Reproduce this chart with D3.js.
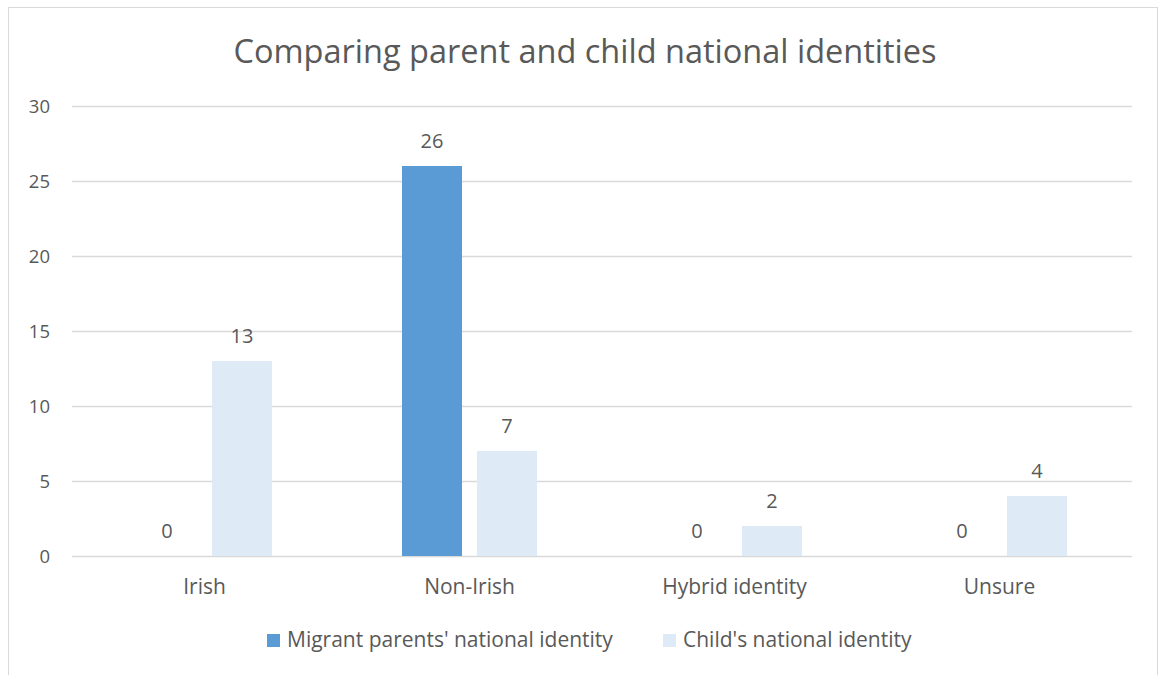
<!DOCTYPE html>
<html><head><meta charset="utf-8">
<script src="https://cdn.jsdelivr.net/npm/d3@7"></script>
<style>body{margin:0;background:#fff;}svg{display:block;}text{font-family:"Open Sans",sans-serif;fill:#595959;}</style>
</head><body>
<script>
const categories = ["Irish", "Non-Irish", "Hybrid identity", "Unsure"];
const seriesNames = ["Migrant parents' national identity", "Child's national identity"];
const parentValues = [0, 26, 0, 0];
const childValues = [13, 7, 2, 4];
const yTicks = [0, 5, 10, 15, 20, 25, 30];
const colors = ["#5B9BD5", "#DEEBF7"];

const W = 1160, H = 675;
const svg = d3.select("body").append("svg").attr("width", W).attr("height", H);
svg.append("rect").attr("x", 8.5).attr("y", 7.5).attr("width", 1149).attr("height", 680)
  .attr("fill", "#fff").attr("stroke", "#d9d9d9");

const x0 = d3.scaleBand().domain(categories).range([72, 1132]).paddingInner(0).paddingOuter(0);
const y = d3.scaleLinear().domain([0, 30]).range([556, 106]);

svg.append("text").attr("x", 585).attr("y", 63).attr("text-anchor", "middle")
  .style("font-size", "32.5px").text("Comparing parent and child national identities");

// gridlines
svg.append("g").selectAll("line").data(yTicks).join("line")
  .attr("x1", 72).attr("x2", 1132).attr("y1", d => Math.round(y(d)) + 0.5).attr("y2", d => Math.round(y(d)) + 0.5)
  .attr("stroke", "#d9d9d9").attr("stroke-width", 1.5);

const yAxis = d3.axisLeft(y).tickValues(yTicks).tickSize(0).tickPadding(0);
const ga = svg.append("g").attr("transform", "translate(50,0)").call(yAxis);
ga.select(".domain").remove();
ga.selectAll("text").style("font-size", "18.5px").attr("fill", "#595959").attr("dy", "0.35em");

const xAxis = d3.axisBottom(x0).tickSize(0).tickPadding(0);
const gx = svg.append("g").attr("transform", "translate(0,594)").call(xAxis);
gx.select(".domain").remove();
gx.selectAll("text").style("font-size", "21px").attr("fill", "#595959").attr("y", 0).attr("dy", "0");

const x1 = d3.scaleBand().domain([0, 1]).range([65, 200]).paddingInner(0.2).paddingOuter(0);
const data = categories.map((c, i) => ({c, vals: [parentValues[i], childValues[i]]}));
const groups = svg.append("g").selectAll("g").data(data).join("g")
  .attr("transform", d => `translate(${x0(d.c)},0)`);
groups.selectAll("rect").data(d => d.vals.map((v, k) => ({v, k}))).join("rect")
  .attr("x", d => x1(d.k)).attr("width", x1.bandwidth())
  .attr("y", d => y(d.v)).attr("height", d => y(0) - y(d.v))
  .attr("fill", d => colors[d.k]);
groups.selectAll("text.lbl").data(d => d.vals.map((v, k) => ({v, k}))).join("text")
  .attr("class", "lbl").attr("text-anchor", "middle")
  .attr("x", d => x1(d.k) + x1.bandwidth() / 2).attr("y", d => y(d.v) - 18)
  .style("font-size", "20px").text(d => d.v);

// legend
const legX = [267, 663];
const leg = svg.append("g").selectAll("g").data(seriesNames).join("g")
  .attr("transform", (d, i) => `translate(${legX[i]},634)`);
leg.append("rect").attr("width", 13).attr("height", 13).attr("fill", (d, i) => colors[i]);
leg.append("text").attr("x", 20).attr("y", 13).style("font-size", "21px").text(d => d);
</script>
</body></html>
